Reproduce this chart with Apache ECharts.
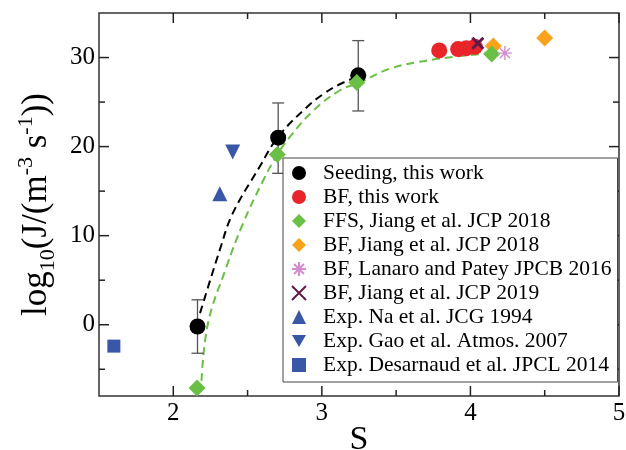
<!DOCTYPE html>
<html>
<head>
<meta charset="utf-8">
<script src="https://cdn.jsdelivr.net/npm/echarts@6/dist/echarts.min.js"></script>
<style>html,body{margin:0;padding:0;background:#fff;}</style>
</head>
<body>
<div id="chart" style="width:626px;height:450px;"></div>
<script>
// values
const seedS = [2.163, 2.706, 3.245];
const seedJ = [-0.2, 21.0, 28.0];
const seedLo = [-3.2, 17.0, 24.0];
const seedHi = [2.8, 24.9, 31.9];

const bfS = [3.79, 3.917, 3.973, 4.03];
const bfJ = [30.8, 30.95, 31.05, 31.2];

const ffsS = [2.16, 2.70, 3.235, 4.143];
const ffsJ = [-7.1, 19.1, 27.2, 30.4];

const jiang18S = [4.154, 4.50];
const jiang18J = [31.3, 32.2];

const lanaroS = [4.232];
const lanaroJ = [30.5];

const jiang19S = [4.05];
const jiang19J = [31.6];

const naS = [2.313];
const naJ = [14.7];

const gaoS = [2.40];
const gaoJ = [19.4];

const desS = [1.60];
const desJ = [-2.4];

// dashed fit curves
const seedFitS = [2.18, 2.313, 2.40, 2.58, 2.706, 2.897, 3.01, 3.12, 3.234];
const seedFitJ = [1.3, 8.4, 12.5, 17.7, 21.1, 24.4, 25.9, 27.0, 27.8];
const ffsFitS = [2.19, 2.234, 2.358, 2.47, 2.605, 2.70, 2.785, 2.94, 3.12, 3.256, 3.45, 3.65, 3.85, 4.1];
const ffsFitJ = [-6.3, 0.2, 6.5, 11.4, 16.2, 19.1, 21.1, 24.0, 26.3, 27.2, 28.7, 29.5, 30.0, 30.45];

const xMajor = [2, 3, 4, 5];
const xMinor = [2.5, 3.5, 4.5];
const yMajor = [0, 10, 20, 30];
const yMinor = [-5, 5, 15, 25];

const xMin = 1.5, xMax = 5, yMin = -8, yMax = 35;

const font = '"Liberation Serif", "DejaVu Serif", serif';
const zip = (a, b) => a.map((v, i) => [v, b[i]]);

const asterisk = 'path://M0,-10L0,10M-10,0L10,0M-7.07,-7.07L7.07,7.07M-7.07,7.07L7.07,-7.07';
const cross = 'path://M-10,-10L10,10M-10,10L10,-10';
const triDown = 'path://M-10,-8.66L10,-8.66L0,8.66Z';

const chart = echarts.init(document.getElementById('chart'));

function scatter(name, s, j, symbol, size, color, extra) {
    return Object.assign({
        name: name,
        type: 'scatter',
        data: zip(s, j),
        symbol: symbol,
        symbolSize: size,
        itemStyle: {color: color, opacity: 1},
        z: 5
    }, extra || {});
}

const option = {
    animation: false,
    backgroundColor: '#fff',
    textStyle: {fontFamily: font},
    grid: {
        left: 99, right: 7, top: 13, bottom: 54,
        outerBoundsMode: 'none',
        containLabel: false,
        show: true, borderColor: '#333', borderWidth: 1.5
    },
    xAxis: {
        type: 'value',
        min: xMin, max: xMax,
        name: 'S',
        nameLocation: 'middle',
        nameGap: 27,
        nameMoveOverlap: false,
        nameTextStyle: {fontFamily: font, fontSize: 34, color: '#000'},
        splitLine: {show: false},
        axisLine: {show: false, onZero: false},
        axisTick: {show: false},
        axisLabel: {customValues: xMajor, margin: 5, fontFamily: font, fontSize: 25, color: '#000'}
    },
    yAxis: {
        type: 'value',
        min: yMin, max: yMax,
        name: '{a|log}{sub|10}{a|(J/(m}{sup|-3}{a| s}{sup|-1}{a|))}',
        nameLocation: 'middle',
        nameRotate: 90,
        nameGap: 40,
        nameMoveOverlap: false,
        nameTextStyle: {
            fontFamily: font, color: '#000',
            rich: {
                a: {fontFamily: font, fontSize: 35, lineHeight: 44, color: '#000'},
                sub: {fontFamily: font, fontSize: 22, lineHeight: 22, verticalAlign: 'bottom', color: '#000'},
                sup: {fontFamily: font, fontSize: 22, lineHeight: 22, verticalAlign: 'top', color: '#000'}
            }
        },
        splitLine: {show: false},
        axisLine: {show: false, onZero: false},
        axisTick: {show: false},
        axisLabel: {customValues: yMajor, margin: 4, fontFamily: font, fontSize: 25, color: '#000'}
    },
    legend: {
        orient: 'vertical',
        left: 283, top: 158,
        padding: [4, 6, 6, 8],
        itemWidth: 14, itemHeight: 14, itemGap: 2,
        backgroundColor: '#fff',
        borderColor: '#444', borderWidth: 1, borderRadius: 0,
        textStyle: {fontFamily: font, fontSize: 21.5, lineHeight: 20, color: '#000', padding: [0, 0, 0, 12]},
        data: ['Seeding, this work', 'BF, this work', 'FFS, Jiang et al. JCP 2018',
            'BF, Jiang et al. JCP 2018', 'BF, Lanaro and Patey JPCB 2016',
            'BF, Jiang et al. JCP 2019', 'Exp. Na et al. JCG 1994',
            'Exp. Gao et al. Atmos. 2007', 'Exp. Desarnaud et al. JPCL 2014'],
        z: 20
    },
    series: [
        {
            type: 'line', data: zip(ffsFitS, ffsFitJ), smooth: 0.4, showSymbol: false,
            lineStyle: {color: '#6abf45', width: 2, type: [8, 5]}, z: 2, silent: true
        },
        {
            type: 'line', data: zip(seedFitS, seedFitJ), smooth: 0.4, showSymbol: false,
            lineStyle: {color: '#000', width: 2, type: [8, 5]}, z: 2, silent: true
        },
        {
            type: 'custom',
            data: seedS.map((s, i) => [s, seedLo[i], seedHi[i]]),
            encode: {x: 0, y: [1, 2]},
            z: 3,
            renderItem: function (params, api) {
                const lo = api.coord([api.value(0), api.value(1)]);
                const hi = api.coord([api.value(0), api.value(2)]);
                const st = {stroke: '#555', lineWidth: 1.3};
                return {
                    type: 'group',
                    children: [
                        {type: 'line', shape: {x1: lo[0], y1: lo[1], x2: hi[0], y2: hi[1]}, style: st},
                        {type: 'line', shape: {x1: lo[0] - 6, y1: lo[1], x2: lo[0] + 6, y2: lo[1]}, style: st},
                        {type: 'line', shape: {x1: hi[0] - 6, y1: hi[1], x2: hi[0] + 6, y2: hi[1]}, style: st}
                    ]
                };
            }
        },
        scatter('Seeding, this work', seedS, seedJ, 'circle', 16, '#000'),
        scatter('BF, this work', bfS, bfJ, 'circle', 16, '#e8262a'),
        scatter('Exp. Desarnaud et al. JPCL 2014', desS, desJ, 'rect', 13, '#3a56a6'),
        scatter('Exp. Na et al. JCG 1994', naS, naJ, 'triangle', 15, '#3a56a6'),
        scatter('Exp. Gao et al. Atmos. 2007', gaoS, gaoJ, triDown, 15, '#3a56a6'),
        scatter('BF, Jiang et al. JCP 2018', jiang18S, jiang18J, 'diamond', 17, '#f9a21b'),
        scatter('FFS, Jiang et al. JCP 2018', ffsS, ffsJ, 'diamond', 17, '#6abf45'),
        scatter('BF, Lanaro and Patey JPCB 2016', lanaroS, lanaroJ, asterisk, 14, 'rgba(0,0,0,0)',
            {itemStyle: {color: 'rgba(0,0,0,0)', borderColor: '#d38ccf', borderWidth: 1.4, opacity: 1}}),
        scatter('BF, Jiang et al. JCP 2019', jiang19S, jiang19J, cross, 11, 'rgba(0,0,0,0)',
            {itemStyle: {color: 'rgba(0,0,0,0)', borderColor: '#5e1a4c', borderWidth: 3, opacity: 1}})
    ]
};

chart.setOption(option);

// inward ticks on all four sides, placed through the chart's own scales
function tickLines(values, dim, len) {
    const out = [];
    values.forEach(function (v) {
        const lo = chart.convertToPixel({gridIndex: 0}, dim === 'x' ? [v, yMin] : [xMin, v]);
        const hi = chart.convertToPixel({gridIndex: 0}, dim === 'x' ? [v, yMax] : [xMax, v]);
        const st = {stroke: '#222', lineWidth: 1.5};
        if (dim === 'x') {
            out.push({type: 'line', z: 15, shape: {x1: lo[0], y1: lo[1], x2: lo[0], y2: lo[1] - len}, style: st});
            out.push({type: 'line', z: 15, shape: {x1: hi[0], y1: hi[1], x2: hi[0], y2: hi[1] + len}, style: st});
        } else {
            out.push({type: 'line', z: 15, shape: {x1: lo[0], y1: lo[1], x2: lo[0] + len, y2: lo[1]}, style: st});
            out.push({type: 'line', z: 15, shape: {x1: hi[0], y1: hi[1], x2: hi[0] - len, y2: hi[1]}, style: st});
        }
    });
    return out;
}

chart.setOption({
    graphic: [].concat(
        tickLines(xMajor, 'x', 10),
        tickLines(xMinor, 'x', 6),
        tickLines(yMajor, 'y', 10),
        tickLines(yMinor, 'y', 6)
    )
});

window.addEventListener('resize', function () {
    chart.resize();
});
</script>
</body>
</html>
